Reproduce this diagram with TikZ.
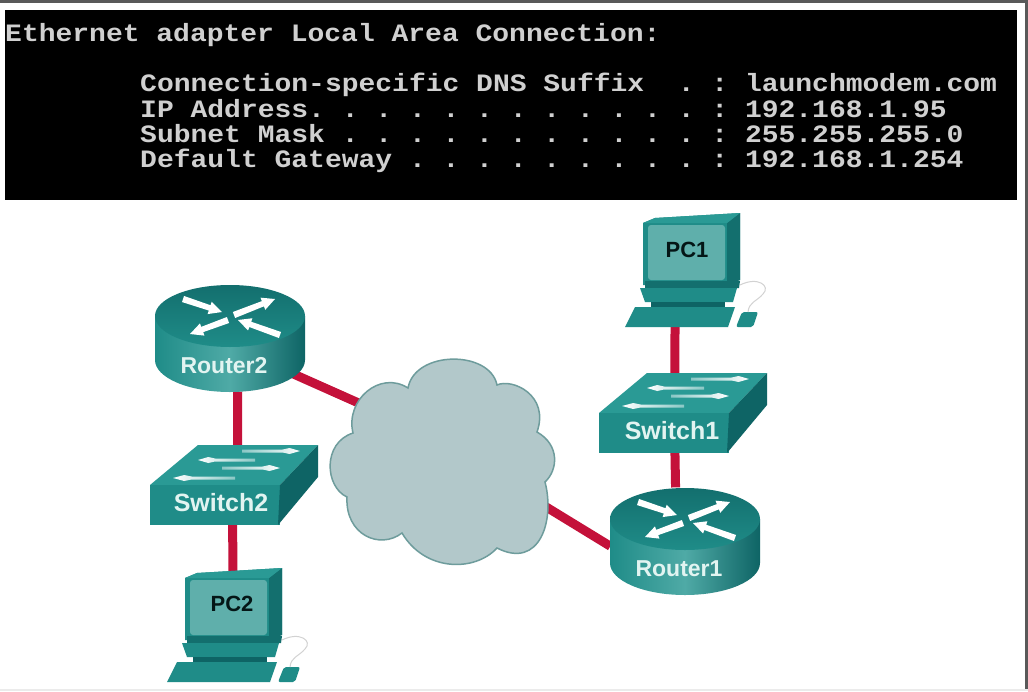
\documentclass[tikz,border=0pt]{standalone}
\usepackage{fontspec}
\setmainfont{Liberation Sans}
\newfontfamily\consolefont[FakeStretch=1.12]{Liberation Mono}
\usetikzlibrary{shapes.geometric,calc}
\definecolor{teal1}{HTML}{1F8C88}
\definecolor{teal2}{HTML}{136F6E}
\definecolor{teal3}{HTML}{2A9A95}
\definecolor{tealdark}{HTML}{0E6465}
\definecolor{tealhi}{HTML}{4FAAA6}
\definecolor{screen}{HTML}{5FAFAB}
\definecolor{linkred}{HTML}{C4113A}
\definecolor{cloudfill}{HTML}{B2C8CA}
\definecolor{clouddraw}{HTML}{6E9C9C}
\definecolor{consoletext}{HTML}{D0D0D0}
\definecolor{labelwhite}{HTML}{E2F4F1}
\newcommand{\routerarrow}[4]{%
  \coordinate (T) at (#1,#2);
  \coordinate (P) at (#3,#4);
  \coordinate (A) at ($(P)!13pt!(T)$);
  \fill[white] ($(T)!3.2pt!90:(P)$) -- ($(A)!2.8pt!-90:(T)$) -- ($(A)!6.5pt!-90:(T)$) -- (P)
    -- ($(A)!6.5pt!90:(T)$) -- ($(A)!2.8pt!90:(T)$) -- ($(T)!3.2pt!-90:(P)$) -- cycle;
}
\tikzset{
  x=1pt,y=-1pt,
  linkline/.style={draw=linkred,line width=9pt},
  anchorbox/.style={inner sep=0pt,outer sep=0pt},
  consoleline/.style={anchor=base west,inner sep=0pt,text=consoletext,font=\fontsize{25}{25}\selectfont\consolefont\bfseries\frenchspacing},
  routerlabel/.style={inner sep=0pt,text=labelwhite,font=\fontsize{23}{23}\selectfont\bfseries},
  switchlabel/.style={inner sep=0pt,text=labelwhite,font=\fontsize{25}{25}\selectfont\bfseries},
  pclabel/.style={inner sep=0pt,text=black!80!teal2,font=\fontsize{22}{22}\selectfont\bfseries},
  pics/routerdev/.style={code={
    % body: origin = centre of top ellipse
    \shade[left color=teal1,right color=tealdark,middle color=tealhi]
      (-75,0) -- (-75,44) arc[start angle=180,end angle=0,x radius=75,y radius=32] -- (75,0) -- cycle;
    \shade[top color=teal2,bottom color=teal1]
      (0,0) ellipse[x radius=75,y radius=31];
    \routerarrow{-47}{-17}{-8}{-4}
    \routerarrow{4}{-1}{45}{-17}
    \routerarrow{-2}{4}{-40}{18}
    \routerarrow{50}{19}{8}{4}
  }},
  pics/switchdev/.style={code={
    % origin = back-left top corner
    \fill[teal3] (0,0) -- (120,0) -- (82,40) -- (-48,40) -- cycle;
    \fill[teal1] (-48,40) -- (82,40) -- (82,80) -- (-48,80) -- cycle;
    \fill[tealdark] (82,40) -- (120,0) -- (120,32) -- (80,80) -- (82,40) -- cycle;
    \foreach \ya/\tl/\tp in {6/44/102,15/57/0,23/24/82,33/37/-25}{
      \shade[left color=white!45!teal3,right color=white,shading angle={\tp>\tl ? 90 : 270}]
        (\tl,\ya-1.5) -- (\tp-0.3*\tp+0.3*\tl,\ya-1.5) -- (\tp-0.18*\tp+0.18*\tl,\ya-3) -- (\tp,\ya)
        -- (\tp-0.18*\tp+0.18*\tl,\ya+3) -- (\tp-0.3*\tp+0.3*\tl,\ya+1.5) -- (\tl,\ya+1.5) -- cycle;
    }
  }},
  pics/pcdev/.style={code={
    % origin = top-left of monitor
    \fill[teal1] (0,5) -- (12,0) -- (97,-5) -- (97,62) -- (82,67) -- (0,67) -- cycle;
    \fill[teal2] (84,5) -- (97,-5) -- (97,62) -- (84,67) -- cycle;
    \fill[teal3] (0,5) -- (12,0) -- (97,-5) -- (84,5) -- cycle;
    \fill[screen,rounded corners=3pt] (5,7) rectangle (82,62);
    \fill[teal2] (2,63) -- (97,63) -- (96,70) -- (2,70) -- cycle;
    \fill[teal1] (-3,70) -- (94,70) -- (90,84) -- (2,84) -- cycle;
    \fill[tealdark] (8,84) -- (82,84) -- (82,89) -- (8,89) -- cycle;
    \fill[teal1] (-8,89) -- (92,89) -- (85,109) -- (-18,109) -- cycle;
    \fill[teal1,rounded corners=2pt] (99,94) -- (115,94) -- (110,109) -- (93,109) -- cycle;
    \draw[gray!35,line width=1pt] (97,67) .. controls (115,58) and (128,68) .. (120,76) .. controls (113,84) and (106,84) .. (105,94);
  }}
}
\begin{document}
\begin{tikzpicture}
\useasboundingbox (0,0) rectangle (1028,691);
\fill[white] (0,0) rectangle (1028,691);
\fill[black!65] (0,0) rectangle (1028,3);
\fill[black!65] (1025,0) rectangle (1028,691);
\fill[black!8] (0,689) rectangle (1028,691);
\fill[black] (5,10) rectangle (1017,200);
% console text
\node[consoleline] (line1) at (5,41) {Ethernet adapter Local Area Connection:};
\node[consoleline] (line2) at (140,91) {Connection-specific DNS Suffix\ \ . : launchmodem.com};
\node[consoleline] (line3) at (140,117) {IP Address. . . . . . . . . . . . : 192.168.1.95};
\node[consoleline] (line4) at (140,142) {Subnet Mask . . . . . . . . . . . : 255.255.255.0};
\node[consoleline] (line5) at (140,167) {Default Gateway . . . . . . . . . : 192.168.1.254};
% anchor boxes of the devices
\node[anchorbox,ellipse,minimum width=150pt,minimum height=108pt] (Router2) at (230,338) {};
\node[anchorbox,ellipse,minimum width=150pt,minimum height=108pt] (Router1) at (685,541) {};
\node[anchorbox,rectangle,minimum width=168pt,minimum height=80pt] (Switch2) at (234,485) {};
\node[anchorbox,rectangle,minimum width=168pt,minimum height=80pt] (Switch1) at (682,413) {};
\node[anchorbox,rectangle,minimum width=130pt,minimum height=110pt] (PC1) at (675,272) {};
\node[anchorbox,rectangle,minimum width=130pt,minimum height=110pt] (PC2) at (233,627) {};
\node[anchorbox,ellipse,minimum width=190pt,minimum height=170pt] (Cloud) at (440,460) {};
% connectors
\draw[linkline] (Router2.-82) -- (Switch2.85);
\draw[linkline] (Switch2.-92) -- (PC2.north);
\draw[linkline] (PC1.south) -- (Switch1.100);
\draw[linkline] (Switch1.-100) -- (Router1.100);
\draw[linkline] (Router2.-30) -- (Cloud.144);
\draw[linkline] (Cloud.-22) -- (Router1.184);
% cloud
\draw[fill=cloudfill,draw=clouddraw,line width=1.5pt]
  (408,388) .. controls (415,350) and (490,350) .. (497,385)
  .. controls (512,378) and (550,395) .. (537,432)
  .. controls (560,445) and (558,470) .. (545,482)
  .. controls (555,520) and (540,570) .. (497,548)
  .. controls (475,572) and (425,572) .. (402,533)
  .. controls (380,550) and (345,535) .. (347,497)
  .. controls (325,487) and (322,443) .. (353,433)
  .. controls (345,400) and (380,370) .. (408,388) -- cycle;
% devices
\pic at (230,316) {routerdev};
\pic at (685,519) {routerdev};
\pic at (198,445) {switchdev};
\pic at (647,373) {switchdev};
\pic at (643,218) {pcdev};
\pic at (185,573) {pcdev};
\node[routerlabel] (lblR2) at (224,366) {Router2};
\node[routerlabel] (lblR1) at (679,569) {Router1};
\node[switchlabel] (lblS2) at (221,503) {Switch2};
\node[switchlabel] (lblS1) at (672,431) {Switch1};
\node[pclabel] (lblP1) at (687,250) {PC1};
\node[pclabel] (lblP2) at (232,604) {PC2};
\end{tikzpicture}
\end{document}
